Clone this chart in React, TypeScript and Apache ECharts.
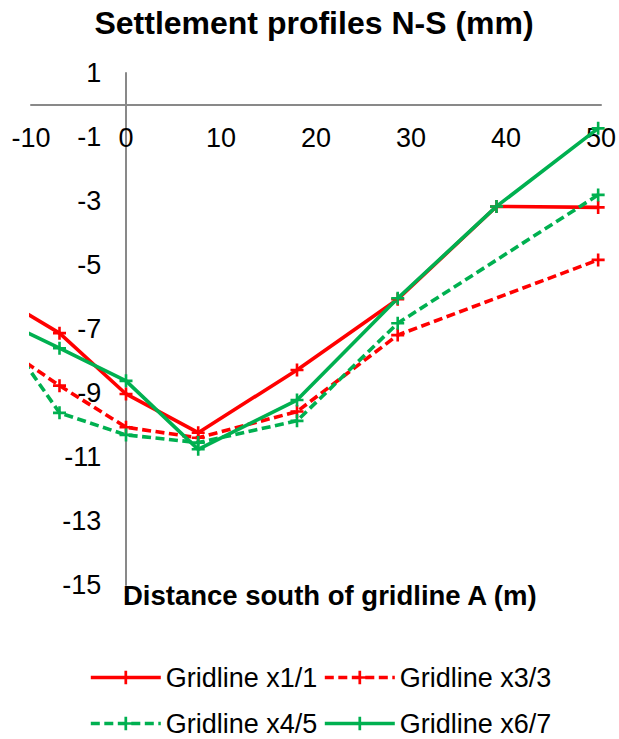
import React, { useEffect, useRef } from "react";
import * as echarts from "echarts";

const xPositions = [-14, -7, 0, 7.6, 18, 28.6, 39, 49.7];
const gridlineX1_1 = [-5.88, -7.13, -9.03, -10.24, -8.28, -6.07, -3.17, -3.2];
const gridlineX3_3 = [-7.34, -8.77, -10.07, -10.4, -9.58, -7.19, null, -4.84];
const gridlineX4_5 = [-6.64, -9.62, -10.31, -10.55, -9.87, -6.82, null, -2.81];
const gridlineX6_7 = [-6.6, -7.6, -8.62, -10.76, -9.22, -6.04, -3.17, -0.73];

const seriesNames = ["Gridline x1/1", "Gridline x3/3", "Gridline x4/5", "Gridline x6/7"];
const titleText = "Settlement profiles N-S (mm)";
const xAxisTitle = "Distance south of gridline A (m)";

const FONT = "'Liberation Sans', Arial, sans-serif";
const RED = "#FF0000";
const GREEN = "#00B050";
const PLUS = "path://M4.8,0H7.2V4.8H12V7.2H7.2V12H4.8V7.2H0V4.8H4.8Z";

function pairs(vals: (number | null)[]) {
  const out: number[][] = [];
  vals.forEach((v, i) => {
    if (v !== null) out.push([xPositions[i], v]);
  });
  return out;
}

export default function App() {
  const ref = useRef<HTMLDivElement>(null);
  useEffect(() => {
    if (!ref.current) return;
    const chart = echarts.init(ref.current, null, { renderer: "svg" });
    const dash = [9, 4.5];
    const mk = (name: string, vals: (number | null)[], color: string, dashed: boolean) => ({
      name,
      type: "line",
      data: pairs(vals),
      symbol: PLUS,
      symbolSize: 13,
      clip: true,
      lineStyle: { color, width: 3.6, type: dashed ? dash : "solid" },
      itemStyle: { color },
      emphasis: { disabled: true },
    });
    const legendBase = {
      orient: "horizontal",
      padding: 0,
      itemWidth: 70,
      itemHeight: 17,
      selectedMode: false,
      lineStyle: { width: 3.6 },
      textStyle: { fontFamily: FONT, fontSize: 27, color: "#000" },
    };
    const gridLeft = 31;
    const gridTop = 73;
    const gridBottomPx = 585;
    const zeroX = 125.7;
    const zeroY = 105;
    chart.setOption({
      animation: false,
      backgroundColor: "#fff",
      grid: {
        left: gridLeft,
        right: 18,
        top: gridTop,
        bottom: 739 - gridBottomPx,
        containLabel: false,
        outerBoundsMode: "none",
      },
      xAxis: {
        type: "value",
        position: "bottom",
        offset: -(gridBottomPx - zeroY),
        min: -10,
        max: 50,
        interval: 10,
        axisLine: { onZero: false, lineStyle: { color: "#898989", width: 2 } },
        axisTick: { show: false },
        splitLine: { show: false },
        axisLabel: { margin: 19.5, fontFamily: FONT, fontSize: 27, color: "#000" },
      },
      yAxis: {
        type: "value",
        position: "left",
        offset: -(zeroX - gridLeft),
        min: -15,
        max: 1,
        interval: 2,
        axisLine: { show: true, onZero: false, lineStyle: { color: "#898989", width: 2 } },
        axisTick: { show: false },
        splitLine: { show: false },
        axisLabel: { margin: 24.5, fontFamily: FONT, fontSize: 27, color: "#000" },
      },
      legend: [
        { ...legendBase, data: [seriesNames[0]], left: 89, top: 664 },
        { ...legendBase, data: [seriesNames[1]], left: 323, top: 664 },
        { ...legendBase, data: [seriesNames[2]], left: 89, top: 710 },
        { ...legendBase, data: [seriesNames[3]], left: 323, top: 710 },
      ],
      graphic: [
        {
          type: "text",
          x: 314,
          y: 23,
          style: {
            text: titleText,
            align: "center",
            verticalAlign: "middle",
            font: `bold 32px ${FONT}`,
            fill: "#000",
          },
        },
        {
          type: "text",
          x: 123,
          y: 595,
          style: {
            text: xAxisTitle,
            align: "left",
            verticalAlign: "middle",
            font: `bold 27.5px ${FONT}`,
            fill: "#000",
          },
        },
      ],
      series: [
        mk(seriesNames[0], gridlineX1_1, RED, false),
        mk(seriesNames[1], gridlineX3_3, RED, true),
        mk(seriesNames[2], gridlineX4_5, GREEN, true),
        mk(seriesNames[3], gridlineX6_7, GREEN, false),
      ],
    });
    return () => chart.dispose();
  }, []);
  return (
    <div
      ref={ref}
      style={{ position: "fixed", left: 0, top: 0, width: 619, height: 739, background: "#fff" }}
    />
  );
}
